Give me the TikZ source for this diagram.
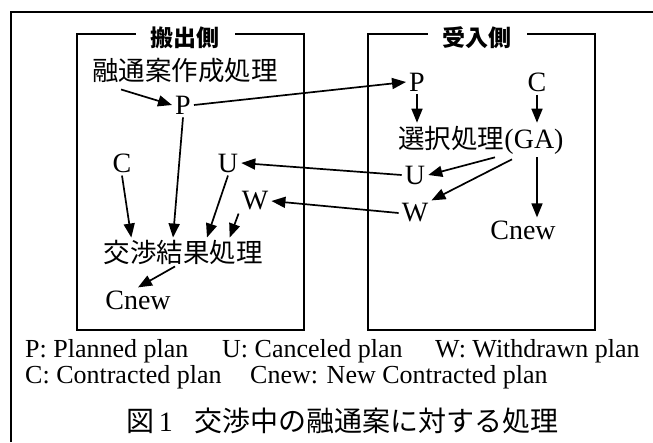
\documentclass[tikz,border=0pt]{standalone}
\usepackage{fontspec}
\setmainfont{Liberation Serif}
\newfontfamily\cjk{Noto Sans CJK JP}
\usetikzlibrary{arrows.meta,calc}
\begin{document}
\begin{tikzpicture}[x=1pt,y=-1pt,
  lat/.style={inner sep=3pt,font=\fontsize{28}{30}\selectfont},
  jp/.style={inner sep=2pt,font=\cjk\fontsize{26.5}{28}\selectfont},
  ttl/.style={fill=white,inner xsep=15pt,inner ysep=1pt,font=\cjk\bfseries\fontsize{23}{25}\selectfont},
  leg/.style={anchor=base west,inner sep=0pt,font=\fontsize{26}{28}\selectfont},
  frame/.style={line width=1.6pt},
  box/.style={line width=1.9pt},
  arr/.style={line width=1.7pt,-{Triangle[length=14pt,width=11pt]}}]
\useasboundingbox (0,0) rectangle (653,442);
\draw[frame] (11,442) -- (11,12) -- (653,12);
% boxes
\draw[box] (77,34) rectangle (304,330);
\draw[box] (368,34) rectangle (595,330);
\node[ttl] (tl) at (185,38) {搬出側};
\node[ttl] (tr) at (477,38) {受入側};
% left side
\node[jp] (yu) at (185,71) {融通案作成処理};
\node[lat] (Pl) at (183,105) {P};
\node[lat] (Cl) at (122,163) {C};
\node[lat] (Ul) at (228,163) {U};
\node[lat] (Wl) at (255,201) {W};
\node[jp] (ko) at (183,252) {交渉結果処理};
\node[lat] (Cnl) at (138,300) {Cnew};
% right side
\node[lat] (Pr) at (417,82) {P};
\node[lat] (Cr) at (537,82) {C};
\node[lat] (sen) at (481,140) {{\cjk\fontsize{26.5}{28}\selectfont 選択処理}(GA)};
\node[lat] (Ur) at (415,175) {U};
\node[lat] (Wr) at (415,213) {W};
\node[lat] (Cnr) at (523,230) {Cnew};
% arrows
\draw[arr] ($(yu.south west)+(31,4)$) -- (Pl.west);
\draw[arr] (Pl.east) -- (Pr.west);
\draw[arr] (Pl.south) -- ($(ko.north)+(-10,0)$);
\draw[arr] (Cl.south) -- ($(ko.north west)+(30,0)$);
\draw[arr] (Ul.south) -- ($(ko.north)+(24,0)$);
\draw[arr] (Wl.south west) -- ($(ko.north east)+(-35,0)$);
\draw[arr] ($(ko.south)+(-8,0)$) -- (Cnl.north);
\draw[arr] (Ur.west) -- (Ul.east);
\draw[arr] (Wr.west) -- (Wl.east);
\draw[arr] (Pr.south) -- (sen.north -| Pr);
\draw[arr] (Cr.south) -- (sen.north -| Cr);
\draw[arr] ($(sen.south)+(14,0)$) -- (Ur.east);
\draw[arr] ($(sen.south)+(31,2)$) -- (Wr.north east);
\draw[arr] (sen.south -| Cr) -- (Cnr.north -| Cr);
% legend
\node[leg] (l1) at (25,357) {P: Planned plan};
\node[leg] (l2) at (222,357) {U: Canceled plan};
\node[leg] (l3) at (435,357) {W: Withdrawn plan};
\node[leg] (l4) at (25,383) {C: Contracted plan};
\node[leg] (l5) at (250,383) {Cnew: New Contracted plan};
\node[anchor=west,inner sep=0pt,font=\fontsize{28}{30}\selectfont] (cap) at (126,421)
  {{\cjk 図}\,1\hspace{22pt}{\cjk 交渉中の融通案に対する処理}};
\end{tikzpicture}
\end{document}
